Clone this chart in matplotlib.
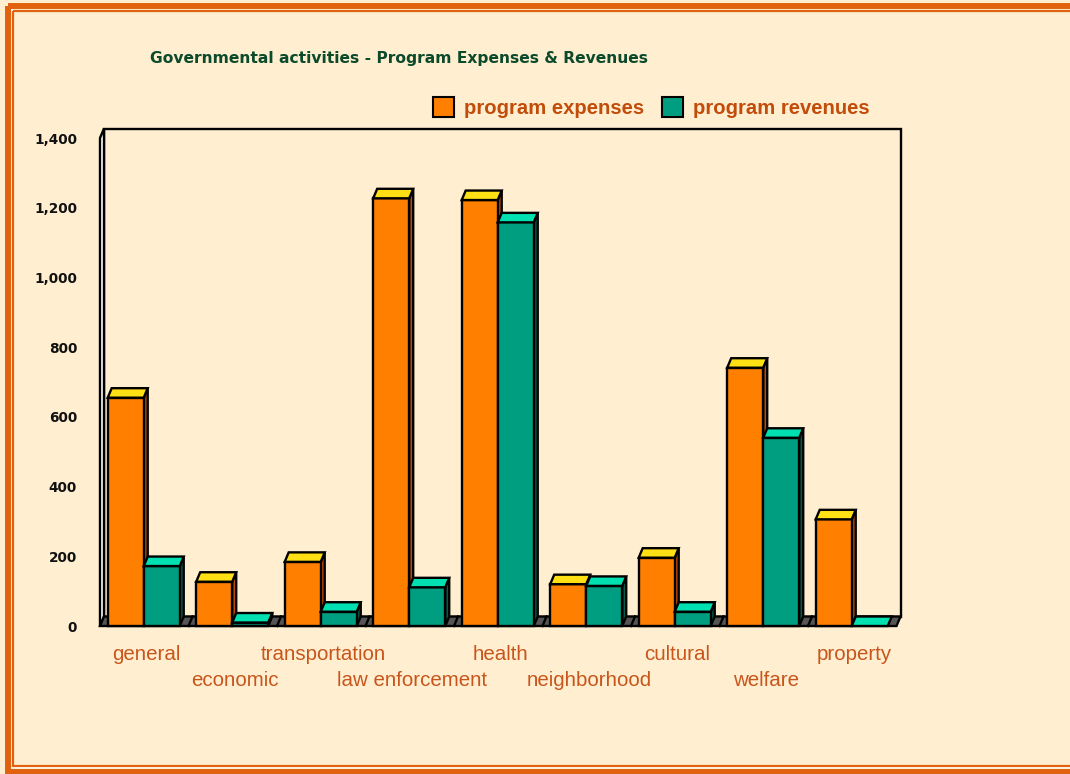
import matplotlib
matplotlib.use("Agg")
import matplotlib.pyplot as plt
from matplotlib.patches import Polygon, Rectangle

# ---------------- data ----------------
categories = ["general", "economic", "transportation", "law enforcement", "health",
              "neighborhood", "cultural", "welfare", "property"]
expenses = [655, 127, 184, 1227, 1222, 120, 196, 741, 306]
revenues = [172, 10, 41, 111, 1158, 115, 41, 540, 0]
series_names = ["program expenses", "program revenues"]
yticks = [0, 200, 400, 600, 800, 1000, 1200, 1400]
title = "Governmental activities - Program Expenses & Revenues"

# ---------------- style ----------------
W, H = 1070, 774
BG = "#FFEED0"
BORDER = "#E0620E"
ORANGE = ("#FF8000", "#FFE014", "#C24A00")   # front, top, side
TEAL = ("#009E80", "#00E0B0", "#005E48")
FLOOR = "#555555"
LABEL_C = "#C8561C"
LEG_C = "#C24C0A"
TITLE_C = "#0B4A2A"
LW = 1.7

fig = plt.figure(figsize=(W / 100, H / 100), dpi=100, facecolor=BG)

# overlay axes in pixel coordinates for frame / title / legend
ov = fig.add_axes([0, 0, 1, 1])
ov.set_xlim(0, W)
ov.set_ylim(H, 0)
ov.axis("off")
ov.patch.set_visible(False)

# double border
ov.add_patch(Rectangle((8, 6), 1080, 766, fill=False, ec=BORDER, lw=4.3, zorder=1))
ov.add_patch(Rectangle((11.6, 9.6), 1080, 757.5, fill=False, ec="white", lw=1.0, zorder=1))
ov.add_patch(Rectangle((13.4, 11.4), 1080, 754.6, fill=False, ec=BORDER, lw=1.6, zorder=1))

# main axes: front plane of the 3D chart
n = len(categories)
ax = fig.add_axes([100 / W, (H - 626) / H, 796.5 / W, 488 / H])
ax.set_xlim(0, n)
ax.set_ylim(0, 1400)
ax.patch.set_visible(False)
for s in ax.spines.values():
    s.set_visible(False)

px_x = 796.5 / n          # pixels per category
px_y = 488 / 1400         # pixels per unit
dx = 4.0 / px_x
dy = 9.5 / px_y

# back wall, left wall, floor
ax.add_patch(Rectangle((dx, dy), n, 1400, fc=BG, ec="black", lw=LW, clip_on=False, zorder=1))
ax.add_patch(Polygon([(0, 0), (dx, dy), (dx, 1400 + dy), (0, 1400)], closed=True,
                     fc="white", ec="black", lw=LW, clip_on=False, zorder=2))
ax.add_patch(Polygon([(0, 0), (n, 0), (n + dx, dy), (dx, dy)], closed=True,
                     fc=FLOOR, ec="black", lw=LW, clip_on=False, zorder=2))
for k in range(1, n):
    ax.plot([k, k + dx], [0, dy], color="black", lw=LW, clip_on=False, zorder=2)

bw = 0.407
off = 0.087


def bar3d(x0, v, cols, z):
    front, top, side = cols
    kw = dict(ec="black", lw=LW, clip_on=False, joinstyle="miter", zorder=z)
    if v > 0:
        ax.add_patch(Polygon([(x0 + bw, 0), (x0 + bw + dx, dy), (x0 + bw + dx, v + dy), (x0 + bw, v)],
                             closed=True, fc=side, **kw))
        ax.add_patch(Rectangle((x0, 0), bw, v, fc=front, **kw))
    ax.add_patch(Polygon([(x0, v), (x0 + bw, v), (x0 + bw + dx, v + dy), (x0 + dx, v + dy)],
                         closed=True, fc=top, **kw))


z = 3
for i in range(n):
    bar3d(i + off, expenses[i], ORANGE, z)
    z += 1
    bar3d(i + off + bw, revenues[i], TEAL, z)
    z += 1

# y ticks
ax.set_xticks([])
ax.set_yticks(yticks)
ax.set_yticklabels([f"{t:,}" for t in yticks], fontsize=9.8, fontweight="bold",
                   family="DejaVu Sans", color="#111111")
ax.tick_params(axis="y", length=0, pad=16.5)

# category labels (alternating rows)
tr = ax.get_xaxis_transform()
for i, c in enumerate(categories):
    yy = -34 / 488 if i % 2 == 0 else -60 / 488
    ax.text(i + 0.5 + dx / 2, yy, c, transform=tr, ha="center", va="baseline",
            fontsize=14.8, family="Liberation Sans", color=LABEL_C)

# title
ov.text(150, 58, title, ha="left", va="center", fontsize=11.2, fontweight="bold",
        family="DejaVu Sans", color=TITLE_C)

# legend
for (sx, tx), name, cols in zip([(433, 464), (662, 693)], series_names, [ORANGE, TEAL]):
    ov.add_patch(Rectangle((sx, 96.5), 20.5, 20.5, fc=cols[0], ec="black", lw=1.5))
    ov.text(tx, 108, name, ha="left", va="center", fontsize=14.6, fontweight="bold",
            family="Liberation Sans", color=LEG_C)

fig.savefig("out.png", dpi=100, facecolor=BG)
